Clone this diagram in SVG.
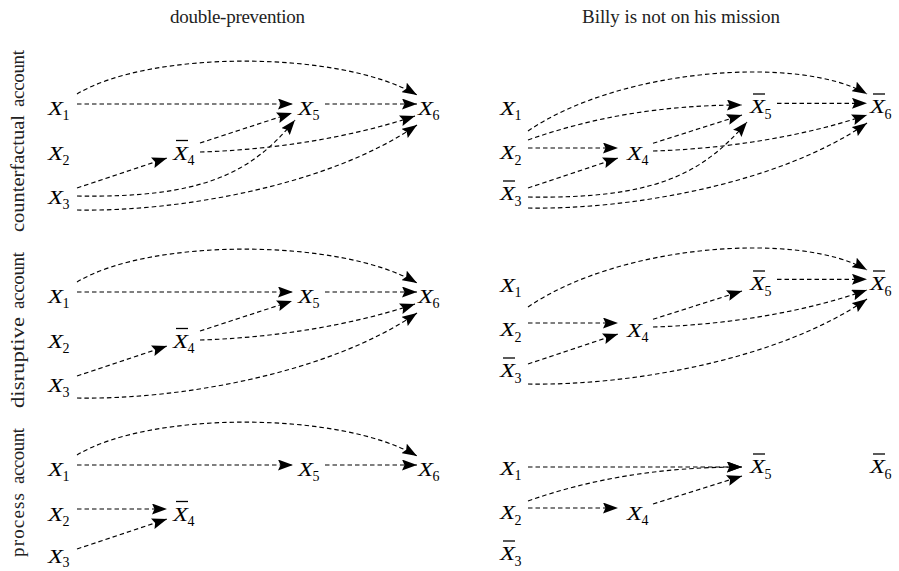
<svg xmlns="http://www.w3.org/2000/svg" width="899" height="571" viewBox="0 0 899 571">
<style>
.e{fill:none;stroke:#000;stroke-width:1.15;stroke-dasharray:4.5 3;marker-end:url(#ah)}
.v{font-family:"Liberation Serif",serif;font-style:italic;font-size:19.5px;fill:#000}
.s{font-family:"Liberation Serif",serif;font-size:14px;fill:#000}
.b{stroke:#000;stroke-width:1.3}
.t{font-family:"Liberation Serif",serif;font-size:19px;fill:#222}
</style>
<defs>
<marker id="ah" viewBox="0 0 15 11" refX="15" refY="5.5" markerWidth="15" markerHeight="11" markerUnits="userSpaceOnUse" orient="auto">
<path d="M0,0 L15,5.5 L0,11 L2.5,5.5 Z" fill="#000"/>
</marker>
</defs>
<rect width="899" height="571" fill="#fff"/>

<g id="headers">
<text class="t" x="170" y="22.5" textLength="135" lengthAdjust="spacing">double-prevention</text>
<text class="t" x="582" y="22.5" textLength="198" lengthAdjust="spacing">Billy is not on his mission</text>
<text class="t" transform="translate(24,0) rotate(-90)" x="-232" y="0" textLength="117" lengthAdjust="spacingAndGlyphs">counterfactual</text>
<text class="t" transform="translate(24,0) rotate(-90)" x="-107" y="0" textLength="57" lengthAdjust="spacing">account</text>
<text class="t" transform="translate(24,0) rotate(-90)" x="-408" y="0" textLength="91" lengthAdjust="spacingAndGlyphs">disruptive</text>
<text class="t" transform="translate(24,0) rotate(-90)" x="-309" y="0" textLength="57" lengthAdjust="spacing">account</text>
<text class="t" transform="translate(24,0) rotate(-90)" x="-557" y="0" textLength="64" lengthAdjust="spacing">process</text>
<text class="t" transform="translate(24,0) rotate(-90)" x="-484" y="0" textLength="56" lengthAdjust="spacing">account</text>
</g>

<g id="connectors">
<g id="c-top-left">
<path class="e" d="M77,94 C150,50 340,50 417,95"/>
<path class="e" d="M77,104 L293,104"/>
<path class="e" d="M325,104 L417,104"/>
<path class="e" d="M200,143 L292,113"/>
<path class="e" d="M200,152 C270,150 350,138 415,116"/>
<path class="e" d="M77,188 L167,158"/>
<path class="e" d="M77,196 C200,198 250,175 295,120"/>
<path class="e" d="M77,210 C180,212 330,185 417,125"/>
</g>
<g id="c-top-right">
<path class="e" d="M528,131 C620,68 800,55 867,94"/>
<path class="e" d="M528,140 C590,118 660,105 742,105"/>
<path class="e" d="M777,103.3 L867,103.3"/>
<path class="e" d="M528,148 L618,148"/>
<path class="e" d="M528,188 L618,158"/>
<path class="e" d="M653,143.3 L742,115"/>
<path class="e" d="M653,151 C723,149 802,137 867,115"/>
<path class="e" d="M528,197 C651,199 701,176 747,122"/>
<path class="e" d="M528,208 C631,210 781,183 867,123"/>
</g>
<g id="c-mid-left">
<path class="e" d="M77,282 C150,238 340,238 417,283"/>
<path class="e" d="M77,292 L293,292"/>
<path class="e" d="M325,292 L417,292"/>
<path class="e" d="M200,331 L292,301"/>
<path class="e" d="M200,340 C270,338 350,326 415,304"/>
<path class="e" d="M77,376 L167,346"/>
<path class="e" d="M77,398 C180,400 330,373 417,313"/>
</g>
<g id="c-mid-right">
<path class="e" d="M528,307 C620,244 800,231 867,270"/>
<path class="e" d="M777,279.3 L867,279.3"/>
<path class="e" d="M528,323 L618,323"/>
<path class="e" d="M528,364 L618,334"/>
<path class="e" d="M653,319.3 L742,291"/>
<path class="e" d="M653,327 C723,325 802,313 867,290"/>
<path class="e" d="M528,384 C631,386 781,359 867,299"/>
</g>
<g id="c-bot-left">
<path class="e" d="M77,455 C150,411 340,411 417,456"/>
<path class="e" d="M77,465 L293,465"/>
<path class="e" d="M325,465 L417,465"/>
<path class="e" d="M77,509 L167,509"/>
<path class="e" d="M77,549 L167,519"/>
</g>
<g id="c-bot-right">
<path class="e" d="M528,467 L742,467"/>
<path class="e" d="M528,501 C590,479 660,467 742,467"/>
<path class="e" d="M528,508 L618,508"/>
<path class="e" d="M653,504 L742,476"/>
</g>
</g>

<g id="panel-top-left">
<g id="tl-x1"><text class="v" x="48" y="114.5" textLength="15" lengthAdjust="spacingAndGlyphs">X</text><text class="s" x="62.5" y="120">1</text></g>
<g id="tl-x2"><text class="v" x="48" y="159.5" textLength="15" lengthAdjust="spacingAndGlyphs">X</text><text class="s" x="62.5" y="165">2</text></g>
<g id="tl-x3"><text class="v" x="48" y="203.5" textLength="15" lengthAdjust="spacingAndGlyphs">X</text><text class="s" x="62.5" y="209">3</text></g>
<g id="tl-x4"><line class="b" x1="176" y1="140.5" x2="188" y2="140.5"/><text class="v" x="173" y="159.5" textLength="15" lengthAdjust="spacingAndGlyphs">X</text><text class="s" x="187.5" y="165">4</text></g>
<g id="tl-x5"><text class="v" x="298" y="114.5" textLength="15" lengthAdjust="spacingAndGlyphs">X</text><text class="s" x="312.5" y="120">5</text></g>
<g id="tl-x6"><text class="v" x="418" y="114.5" textLength="15" lengthAdjust="spacingAndGlyphs">X</text><text class="s" x="432.5" y="120">6</text></g>
</g>

<g id="panel-top-right">
<g id="tr-x1"><text class="v" x="500" y="114.5" textLength="15" lengthAdjust="spacingAndGlyphs">X</text><text class="s" x="514.5" y="120">1</text></g>
<g id="tr-x2"><text class="v" x="500" y="159" textLength="15" lengthAdjust="spacingAndGlyphs">X</text><text class="s" x="514.5" y="164.5">2</text></g>
<g id="tr-x3"><line class="b" x1="503" y1="181" x2="515" y2="181"/><text class="v" x="500" y="200" textLength="15" lengthAdjust="spacingAndGlyphs">X</text><text class="s" x="514.5" y="205.5">3</text></g>
<g id="tr-x4"><text class="v" x="627" y="159.5" textLength="15" lengthAdjust="spacingAndGlyphs">X</text><text class="s" x="641.5" y="165">4</text></g>
<g id="tr-x5"><line class="b" x1="753" y1="94" x2="765" y2="94"/><text class="v" x="750" y="113" textLength="15" lengthAdjust="spacingAndGlyphs">X</text><text class="s" x="764.5" y="118.5">5</text></g>
<g id="tr-x6"><line class="b" x1="873" y1="94" x2="885" y2="94"/><text class="v" x="870" y="113" textLength="15" lengthAdjust="spacingAndGlyphs">X</text><text class="s" x="884.5" y="118.5">6</text></g>
</g>

<g id="panel-mid-left" transform="translate(0,188)">
<g id="ml-x1"><text class="v" x="48" y="114.5" textLength="15" lengthAdjust="spacingAndGlyphs">X</text><text class="s" x="62.5" y="120">1</text></g>
<g id="ml-x2"><text class="v" x="48" y="159.5" textLength="15" lengthAdjust="spacingAndGlyphs">X</text><text class="s" x="62.5" y="165">2</text></g>
<g id="ml-x3"><text class="v" x="48" y="203.5" textLength="15" lengthAdjust="spacingAndGlyphs">X</text><text class="s" x="62.5" y="209">3</text></g>
<g id="ml-x4"><line class="b" x1="176" y1="140.5" x2="188" y2="140.5"/><text class="v" x="173" y="159.5" textLength="15" lengthAdjust="spacingAndGlyphs">X</text><text class="s" x="187.5" y="165">4</text></g>
<g id="ml-x5"><text class="v" x="298" y="114.5" textLength="15" lengthAdjust="spacingAndGlyphs">X</text><text class="s" x="312.5" y="120">5</text></g>
<g id="ml-x6"><text class="v" x="418" y="114.5" textLength="15" lengthAdjust="spacingAndGlyphs">X</text><text class="s" x="432.5" y="120">6</text></g>
</g>

<g id="panel-mid-right" transform="translate(0,177)">
<g id="mr-x1"><text class="v" x="500" y="114.5" textLength="15" lengthAdjust="spacingAndGlyphs">X</text><text class="s" x="514.5" y="120">1</text></g>
<g id="mr-x2"><text class="v" x="500" y="159" textLength="15" lengthAdjust="spacingAndGlyphs">X</text><text class="s" x="514.5" y="164.5">2</text></g>
<g id="mr-x3"><line class="b" x1="503" y1="181" x2="515" y2="181"/><text class="v" x="500" y="200" textLength="15" lengthAdjust="spacingAndGlyphs">X</text><text class="s" x="514.5" y="205.5">3</text></g>
<g id="mr-x4"><text class="v" x="627" y="159.5" textLength="15" lengthAdjust="spacingAndGlyphs">X</text><text class="s" x="641.5" y="165">4</text></g>
<g id="mr-x5"><line class="b" x1="753" y1="94" x2="765" y2="94"/><text class="v" x="750" y="113" textLength="15" lengthAdjust="spacingAndGlyphs">X</text><text class="s" x="764.5" y="118.5">5</text></g>
<g id="mr-x6"><line class="b" x1="873" y1="94" x2="885" y2="94"/><text class="v" x="870" y="113" textLength="15" lengthAdjust="spacingAndGlyphs">X</text><text class="s" x="884.5" y="118.5">6</text></g>
</g>

<g id="panel-bot-left" transform="translate(0,361)">
<g id="bl-x1"><text class="v" x="48" y="114.5" textLength="15" lengthAdjust="spacingAndGlyphs">X</text><text class="s" x="62.5" y="120">1</text></g>
<g id="bl-x2"><text class="v" x="48" y="159.5" textLength="15" lengthAdjust="spacingAndGlyphs">X</text><text class="s" x="62.5" y="165">2</text></g>
<g id="bl-x3"><text class="v" x="48" y="201.5" textLength="15" lengthAdjust="spacingAndGlyphs">X</text><text class="s" x="62.5" y="206">3</text></g>
<g id="bl-x4"><line class="b" x1="176" y1="140.5" x2="188" y2="140.5"/><text class="v" x="173" y="159.5" textLength="15" lengthAdjust="spacingAndGlyphs">X</text><text class="s" x="187.5" y="165">4</text></g>
<g id="bl-x5"><text class="v" x="298" y="114.5" textLength="15" lengthAdjust="spacingAndGlyphs">X</text><text class="s" x="312.5" y="120">5</text></g>
<g id="bl-x6"><text class="v" x="418" y="114.5" textLength="15" lengthAdjust="spacingAndGlyphs">X</text><text class="s" x="432.5" y="120">6</text></g>
</g>

<g id="panel-bot-right" transform="translate(0,360)">
<g id="br-x1"><text class="v" x="500" y="114.5" textLength="15" lengthAdjust="spacingAndGlyphs">X</text><text class="s" x="514.5" y="120">1</text></g>
<g id="br-x2"><text class="v" x="500" y="159" textLength="15" lengthAdjust="spacingAndGlyphs">X</text><text class="s" x="514.5" y="164.5">2</text></g>
<g id="br-x3"><line class="b" x1="503" y1="181" x2="515" y2="181"/><text class="v" x="500" y="200" textLength="15" lengthAdjust="spacingAndGlyphs">X</text><text class="s" x="514.5" y="205.5">3</text></g>
<g id="br-x4"><text class="v" x="627" y="159.5" textLength="15" lengthAdjust="spacingAndGlyphs">X</text><text class="s" x="641.5" y="165">4</text></g>
<g id="br-x5"><line class="b" x1="753" y1="94" x2="765" y2="94"/><text class="v" x="750" y="113" textLength="15" lengthAdjust="spacingAndGlyphs">X</text><text class="s" x="764.5" y="118.5">5</text></g>
<g id="br-x6"><line class="b" x1="873" y1="94" x2="885" y2="94"/><text class="v" x="870" y="113" textLength="15" lengthAdjust="spacingAndGlyphs">X</text><text class="s" x="884.5" y="118.5">6</text></g>
</g>
</svg>
